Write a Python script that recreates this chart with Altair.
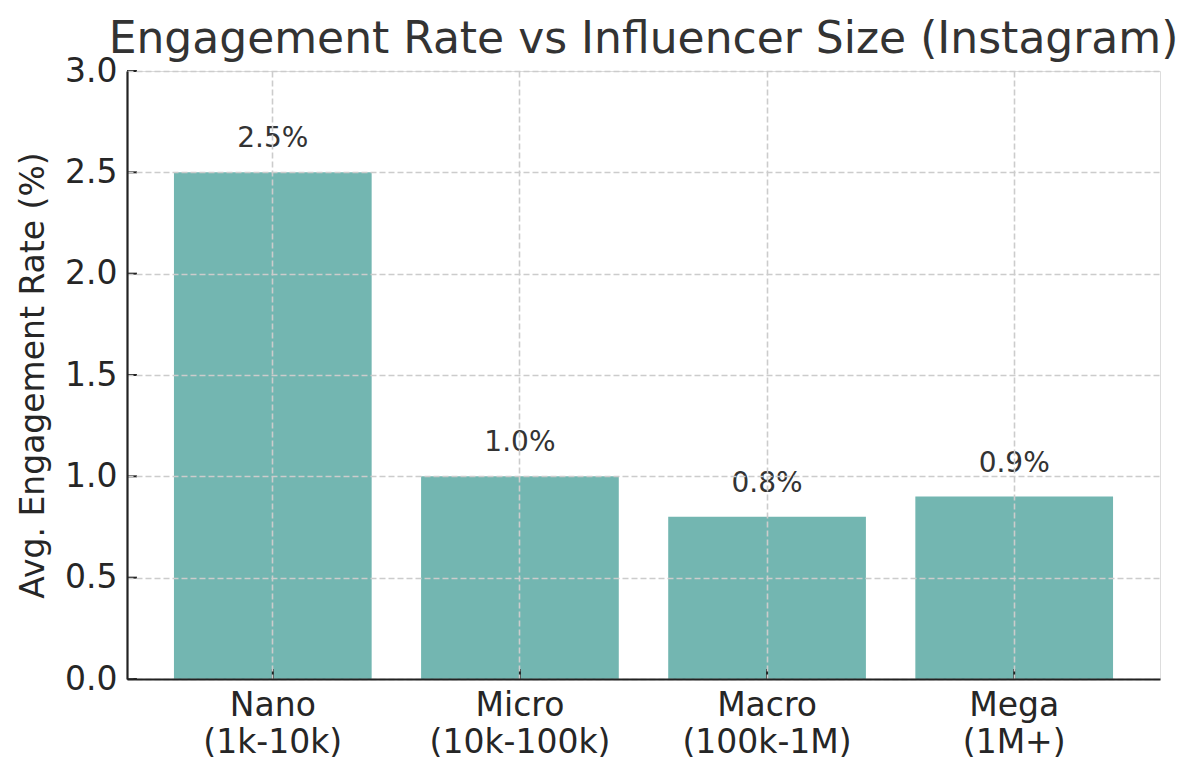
import altair as alt
import pandas as pd

categories = ["Nano\n(1k-10k)", "Micro\n(10k-100k)", "Macro\n(100k-1M)", "Mega\n(1M+)"]
rates = [2.5, 1.0, 0.8, 0.9]
rate_labels = ["2.5%", "1.0%", "0.8%", "0.9%"]
y_ticks = [0.0, 0.5, 1.0, 1.5, 2.0, 2.5, 3.0]

df = pd.DataFrame({"size": categories, "rate": rates, "label": rate_labels})
ticks_df = pd.DataFrame({"tick": y_ticks})

W, H = 1033, 608
FONT = "DejaVu Sans"

x_enc = alt.X(
    "size:N", sort=None, title=None,
    scale=alt.Scale(paddingInner=0.2, paddingOuter=0.19),
    axis=alt.Axis(
        labelExpr="split(datum.label, '\\n')", labelAngle=0, labelLimit=400,
        labelFontSize=33, labelLineHeight=37, labelPadding=10,
        labelColor="#262626", labelFont=FONT,
        ticks=False, bandPosition=0.5,
        grid=True, gridColor="#cccccc", gridDash=[6, 3], gridWidth=1.6,
        domainColor="#222222", domainWidth=2.2, zindex=1,
    ),
)

bars = alt.Chart(df).mark_bar(color="#73b6b1").encode(
    x=x_enc,
    y=alt.Y(
        "rate:Q", title="Avg. Engagement Rate (%)",
        scale=alt.Scale(domain=[0, 3], nice=False),
        axis=alt.Axis(
            values=y_ticks, format=".1f",
            labelFontSize=33, labelColor="#262626", labelFont=FONT,
            labelPadding=10, ticks=False,
            titleFontSize=33, titleFont=FONT, titleFontWeight="normal",
            titleColor="#262626", titlePadding=14,
            grid=True, gridColor="#cccccc", gridDash=[6, 3], gridWidth=1.6,
            domainColor="#222222", domainWidth=2.2, zindex=1,
        ),
    ),
)

text = alt.Chart(df).mark_text(
    baseline="alphabetic", dy=-25, fontSize=28, font=FONT, color="#333333"
).encode(x=alt.X("size:N", sort=None), y="rate:Q", text="label:N")

# inward ticks, like the original
y_tick_marks = alt.Chart(ticks_df).mark_rule(color="#222222", strokeWidth=2).encode(
    y="tick:Q", x=alt.value(0), x2=alt.value(10)
)
x_tick_marks = alt.Chart(df).mark_rule(color="#222222", strokeWidth=2).encode(
    x=alt.X("size:N", sort=None), y=alt.value(H - 10), y2=alt.value(H)
)

chart = alt.layer(bars, text, y_tick_marks, x_tick_marks).properties(
    width=W, height=H,
    autosize=alt.AutoSizeParams(type="none"),
    padding={"left": 119, "top": 63, "right": 36, "bottom": 93},
    title=alt.Title(
        "Engagement Rate vs Influencer Size (Instagram)",
        fontSize=44, font=FONT, fontWeight="normal", color="#333333",
        anchor="middle", offset=-7,
    ),
).configure_view(stroke=None).configure(background="white")

chart.save("out.html", embed_options={"renderer": "svg", "actions": False})
